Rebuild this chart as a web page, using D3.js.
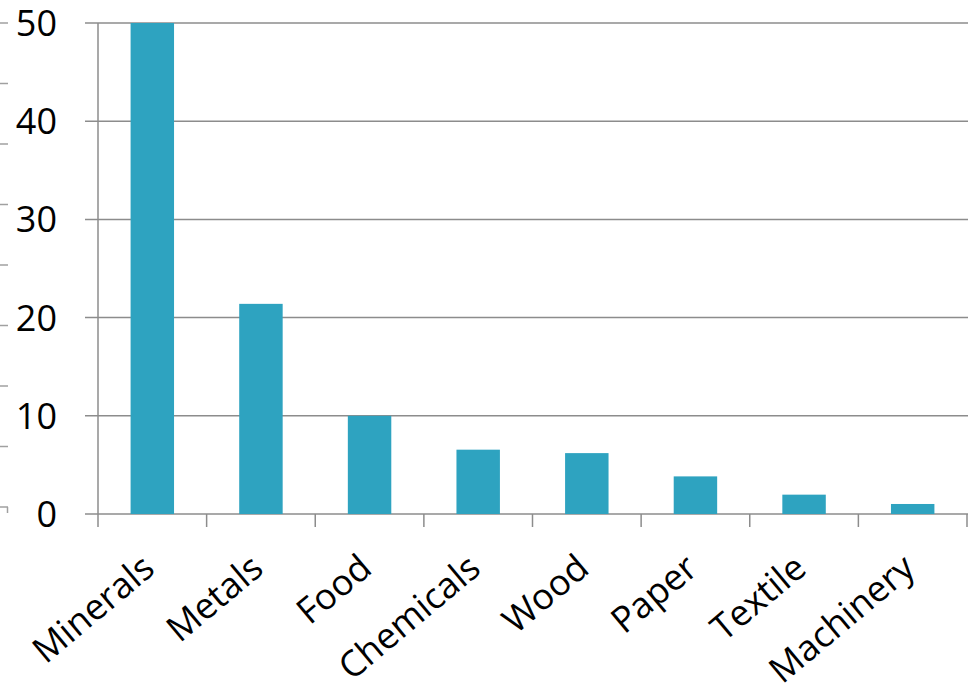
<!DOCTYPE html>
<html>
<head>
<meta charset="utf-8">
<script src="https://cdn.jsdelivr.net/npm/d3@7/dist/d3.min.js"></script>
<style>
  body { margin: 0; background: #fff; }
  svg { display: block; font-family: "Open Sans", "Noto Sans", sans-serif; }
</style>
</head>
<body>
<svg id="chart" width="968" height="688"></svg>
<script>
const categories = ["Minerals", "Metals", "Food", "Chemicals", "Wood", "Paper", "Textile", "Machinery"];
const values = [50, 21.4, 10, 6.55, 6.2, 3.83, 1.97, 1.02];
const yTicks = [0, 10, 20, 30, 40, 50];
// stray ticks of a neighbouring axis, cut off at the left edge
const edgeTicks = [0, 1, 2, 3, 4, 5, 6, 7, 8];

const width = 968;
const height = 688;
const margin = { top: 23, right: 1, bottom: 174, left: 98 };

const svg = d3.select("#chart");
const grey = "#8c8c8c";

const x = d3.scaleBand()
  .domain(categories)
  .range([margin.left, width - margin.right])
  .padding(0);

const y = d3.scaleLinear()
  .domain([0, 50])
  .range([height - margin.bottom, margin.top]);

// gridlines + outward ticks
svg.append("g")
  .selectAll("line")
  .data(yTicks)
  .join("line")
  .attr("x1", margin.left - 13)
  .attr("x2", width)
  .attr("y1", d => y(d))
  .attr("y2", d => y(d))
  .attr("stroke", grey)
  .attr("stroke-width", 1.5);

// y axis line
svg.append("line")
  .attr("x1", margin.left)
  .attr("x2", margin.left)
  .attr("y1", y(50))
  .attr("y2", y(0) + 13)
  .attr("stroke", grey)
  .attr("stroke-width", 1.5);

// category ticks
svg.append("g")
  .selectAll("line")
  .data(categories.slice(1).concat(["_end"]))
  .join("line")
  .attr("x1", (d, i) => x.range()[0] + x.step() * (i + 1))
  .attr("x2", (d, i) => x.range()[0] + x.step() * (i + 1))
  .attr("y1", y(0))
  .attr("y2", y(0) + 13)
  .attr("stroke", grey)
  .attr("stroke-width", 1.5);

// bars
const barW = x.bandwidth() * 0.4;
svg.append("g")
  .selectAll("rect")
  .data(values)
  .join("rect")
  .attr("x", (d, i) => x(categories[i]) + (x.bandwidth() - barW) / 2)
  .attr("y", d => y(d))
  .attr("width", barW)
  .attr("height", d => y(0) - y(d))
  .attr("fill", "#2ea3c0");

// y labels
svg.append("g")
  .selectAll("text")
  .data(yTicks)
  .join("text")
  .attr("x", 57)
  .attr("y", d => y(d))
  .attr("dy", "0.36em")
  .attr("text-anchor", "end")
  .attr("font-size", 36)
  .attr("fill", "#000")
  .text(d => d);

// x labels
svg.append("g")
  .selectAll("text")
  .data(categories)
  .join("text")
  .attr("transform", d => `translate(${x(d) + x.bandwidth() / 2 - 13},${y(0) + 37}) rotate(-40)`)
  .attr("dy", "0.75em")
  .attr("text-anchor", "end")
  .attr("font-size", 36)
  .attr("fill", "#000")
  .text(d => d);

// left edge stubs
const e = d3.scaleLinear().domain([0, 8]).range([23, 507]);
svg.append("g")
  .selectAll("line")
  .data(edgeTicks)
  .join("line")
  .attr("x1", 0)
  .attr("x2", 8)
  .attr("y1", d => e(d))
  .attr("y2", d => e(d))
  .attr("stroke", "#a0a0a0")
  .attr("stroke-width", 1.5);
svg.append("line")
  .attr("x1", 7.5).attr("x2", 7.5)
  .attr("y1", e(8)).attr("y2", e(8) + 6)
  .attr("stroke", "#a0a0a0")
  .attr("stroke-width", 1.5);
</script>
</body>
</html>
